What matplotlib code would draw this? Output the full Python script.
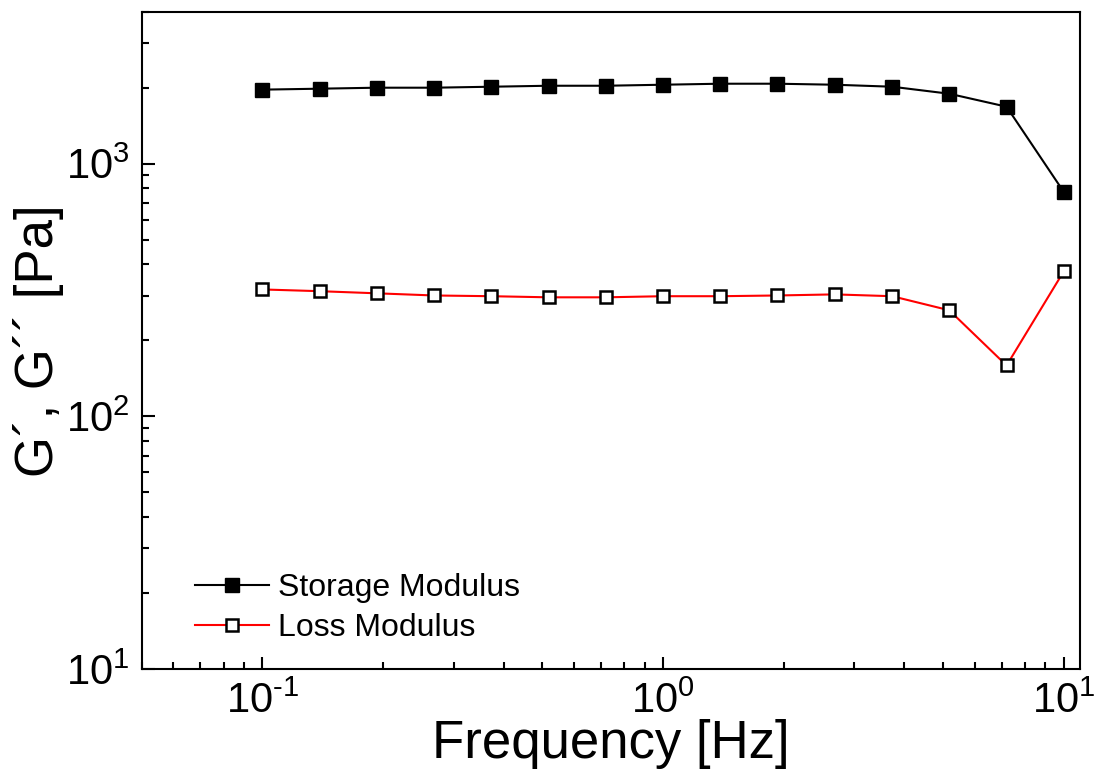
import numpy as np
import matplotlib.pyplot as plt
from matplotlib.ticker import LogLocator, FuncFormatter, NullFormatter

plt.rcParams['font.family'] = ['Liberation Sans', 'DejaVu Sans']
plt.rcParams['mathtext.fontset'] = 'custom'
plt.rcParams['mathtext.rm'] = 'Liberation Sans'
plt.rcParams['mathtext.it'] = 'Liberation Sans:italic'
plt.rcParams['axes.unicode_minus'] = False

freq = [0.1, 0.139, 0.193, 0.268, 0.373, 0.518, 0.720, 1.0,
        1.39, 1.93, 2.68, 3.73, 5.18, 7.20, 10.0]
storage = [1965, 1982, 2000, 2000, 2018, 2036, 2036, 2055,
           2074, 2074, 2055, 2018, 1893, 1682, 774]
loss = [318, 313, 307, 301, 299, 296, 296, 299,
        299, 301, 304, 299, 263, 159, 375]

fig = plt.figure(figsize=(10.99, 7.77), dpi=100)
ax = fig.add_axes([0.129, 0.139, 0.854, 0.846])

ax.plot(freq, storage, color='black', lw=1.5, marker='s', ms=9.5,
        mfc='black', mec='black', label='Storage Modulus')
ax.plot(freq, loss, color='red', lw=1.5, marker='s', ms=9,
        mfc='white', mec='black', mew=1.8, label='Loss Modulus')

ax.set_xscale('log')
ax.set_yscale('log')
ax.set_xlim(0.05, 11)
ax.set_ylim(10, 4000)


def pow_label(v, pos):
    e = int(round(np.log10(v)))
    if e < 0:
        return r'$\mathregular{10^{\text{-}%d}}$' % (-e)
    return r'$\mathregular{10^{%d}}$' % e


for a in (ax.xaxis, ax.yaxis):
    a.set_major_locator(LogLocator(base=10))
    a.set_major_formatter(FuncFormatter(pow_label))
    a.set_minor_locator(LogLocator(base=10, subs=range(2, 10)))
    a.set_minor_formatter(NullFormatter())

ax.tick_params(which='both', direction='in', top=False, right=False,
               width=1.5, labelsize=30)
ax.tick_params(which='major', length=9, pad=9)
ax.tick_params(which='minor', length=5)
for s in ax.spines.values():
    s.set_linewidth(1.5)

ax.set_xlabel('Frequency [Hz]', fontsize=38, labelpad=-2)
ax.set_ylabel('G\u00b4, G\u00b4\u00b4 [Pa]', fontsize=38, labelpad=1)

ax.legend(loc='lower left', bbox_to_anchor=(0.057, 0.04), frameon=False,
          fontsize=23, handlelength=2.3, handletextpad=0.3,
          labelspacing=0.3, borderpad=0, borderaxespad=0)

fig.savefig('out.png', dpi=100)
